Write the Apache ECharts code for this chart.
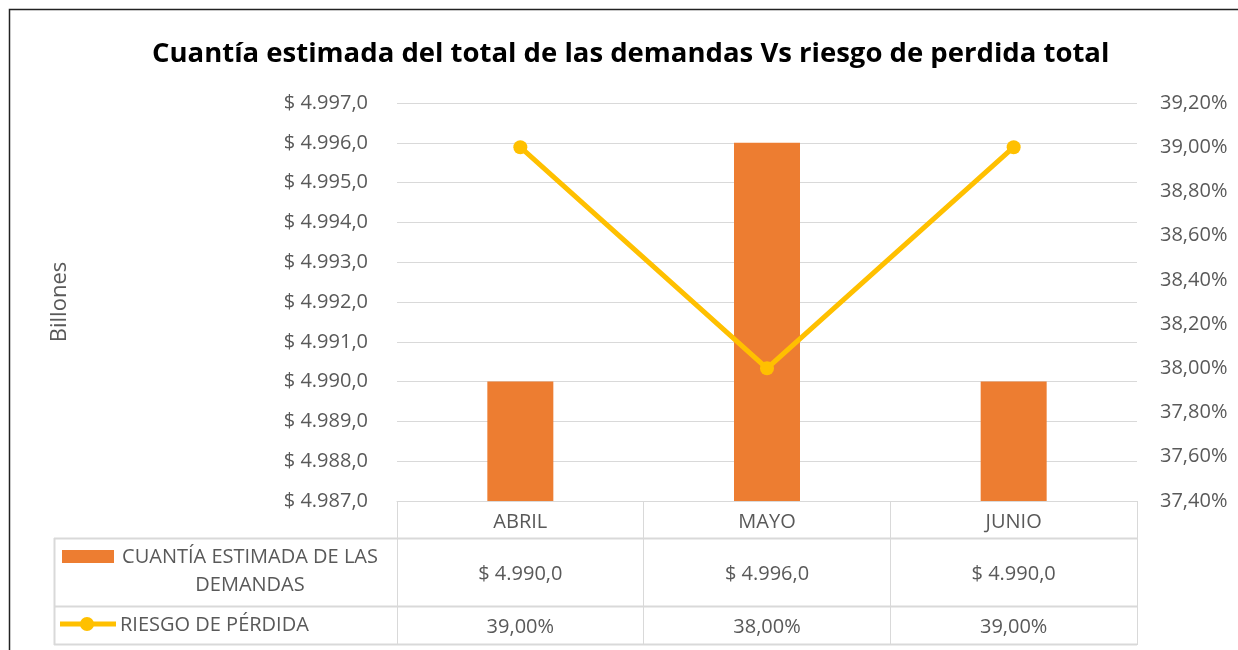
<!DOCTYPE html>
<html>
<head>
<meta charset="utf-8">
<script src="https://cdn.jsdelivr.net/npm/echarts@6/dist/echarts.min.js"></script>
<style>
  html, body { margin: 0; padding: 0; background: #fff; }
  #main { width: 1238px; height: 650px; }
</style>
</head>
<body>
<div id="main"></div>
<script>
// datos del grafico
const meses = ["ABRIL", "MAYO", "JUNIO"];
const cuantia = [4990, 4996, 4990];
const riesgo = [39.0, 38.0, 39.0];
const nombreBarra = "CUANTÍA ESTIMADA DE LAS\nDEMANDAS";
const nombreLinea = "RIESGO DE PÉRDIDA";

const fuente = "Open Sans";
const gris = "#595959";
const linea = "#d9d9d9";
const tam = 20;

function pesos(v) {
  let s = v.toFixed(1).replace(".", ",");
  let partes = s.split(",");
  partes[0] = partes[0].replace(/\B(?=(\d{3})+(?!\d))/g, ".");
  return "$ " + partes.join(",");
}
function pct(v) {
  return v.toFixed(2).replace(".", ",") + "%";
}

let myChart = echarts.init(document.getElementById("main"));

let option = {
  animation: false,
  textStyle: { fontFamily: fuente },
  title: {
    text: "Cuantía estimada del total de las demandas Vs riesgo de perdida total",
    left: 147,
    top: 35,
    textStyle: { fontSize: 27.5, fontWeight: "bold", color: "#000", fontFamily: fuente }
  },
  grid: { left: 397, right: 101, top: 103, bottom: 149 },
  xAxis: [
    {
      type: "category",
      data: meses,
      axisLine: { lineStyle: { color: linea } },
      axisTick: { show: true, length: 144, lineStyle: { color: linea } },
      axisLabel: { color: gris, fontSize: tam, margin: 11 }
    },
    {
      type: "category",
      data: cuantia.map(pesos),
      position: "bottom",
      offset: 55,
      axisLine: { show: false },
      axisTick: { show: false },
      axisLabel: { color: gris, fontSize: tam, margin: 8 }
    },
    {
      type: "category",
      data: riesgo.map(pct),
      position: "bottom",
      offset: 108,
      axisLine: { show: false },
      axisTick: { show: false },
      axisLabel: { color: gris, fontSize: tam, margin: 8 }
    }
  ],
  yAxis: [
    {
      type: "value",
      min: 4987,
      max: 4997,
      interval: 1,
      name: "Billones",
      nameLocation: "middle",
      nameGap: 326,
      nameTextStyle: { color: gris, fontSize: 22 },
      axisLine: { show: false },
      axisTick: { show: false },
      splitLine: { lineStyle: { color: linea } },
      axisLabel: { color: gris, fontSize: tam, margin: 29, formatter: pesos }
    },
    {
      type: "value",
      min: 37.4,
      max: 39.2,
      interval: 0.2,
      axisLine: { show: false },
      axisTick: { show: false },
      splitLine: { show: false },
      axisLabel: { color: gris, fontSize: tam, margin: 23, formatter: pct }
    }
  ],
  series: [
    {
      name: nombreBarra,
      type: "bar",
      data: cuantia,
      barWidth: 66,
      itemStyle: { color: "#ED7D31" }
    },
    {
      name: nombreLinea,
      type: "line",
      yAxisIndex: 1,
      data: riesgo,
      symbol: "circle",
      symbolSize: 14,
      lineStyle: { color: "#FFC000", width: 5 },
      itemStyle: { color: "#FFC000" }
    }
  ],
  graphic: [
    // borde del area
    { type: "rect", shape: { x: 9.5, y: 9.5, width: 1240, height: 660 }, style: { fill: "none", stroke: "#222", lineWidth: 1.5 }, silent: true },
    // lineas de la tabla
    { type: "line", shape: { x1: 54, y1: 538.5, x2: 1137, y2: 538.5 }, style: { stroke: linea, lineWidth: 2 } },
    { type: "line", shape: { x1: 54, y1: 606.5, x2: 1137, y2: 606.5 }, style: { stroke: linea, lineWidth: 2 } },
    { type: "line", shape: { x1: 54, y1: 644.5, x2: 1137, y2: 644.5 }, style: { stroke: linea, lineWidth: 2 } },
    { type: "line", shape: { x1: 54.5, y1: 538, x2: 54.5, y2: 645 }, style: { stroke: linea, lineWidth: 2 } },
    // claves de leyenda
    { type: "rect", shape: { x: 62, y: 550, width: 52, height: 13 }, style: { fill: "#ED7D31" } },
    { type: "text", x: 250, y: 543, style: { text: nombreBarra, fill: gris, fontSize: tam, fontFamily: fuente, align: "center", lineHeight: 28 } },
    { type: "line", shape: { x1: 60, y1: 624, x2: 116, y2: 624 }, style: { stroke: "#FFC000", lineWidth: 5 } },
    { type: "circle", shape: { cx: 87, cy: 624, r: 7 }, style: { fill: "#FFC000" } },
    { type: "text", x: 120, y: 611, style: { text: nombreLinea, fill: gris, fontSize: tam, fontFamily: fuente, lineHeight: 28 } }
  ]
};

myChart.setOption(option);
</script>
</body>
</html>
